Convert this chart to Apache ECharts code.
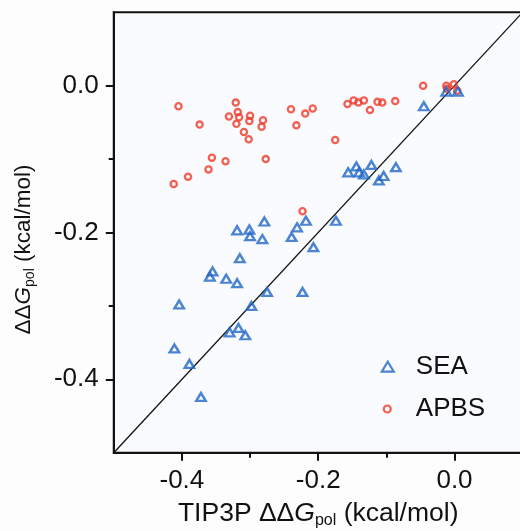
<!DOCTYPE html>
<html>
<head>
<meta charset="utf-8">
<script src="https://cdn.jsdelivr.net/npm/echarts@6/dist/echarts.min.js"></script>
<style>
  html, body { margin: 0; padding: 0; background: #fdfdfe; }
  #chart { width: 520px; height: 531px; }
</style>
</head>
<body>
<div id="chart"></div>
<script>
// SEA vs. TIP3P polar solvation free energy differences (kcal/mol)
const seaX = [-0.411, -0.404, -0.389, -0.372, -0.355, -0.359, -0.335, -0.319, -0.330, -0.317,
              -0.307, -0.315, -0.319, -0.301, -0.300, -0.298, -0.279, -0.282, -0.275, -0.231,
              -0.239, -0.218, -0.223, -0.207, -0.174, -0.156, -0.144, -0.140, -0.133, -0.122,
              -0.111, -0.104, -0.086, -0.045, -0.012, 0.005];
const seaY = [-0.358, -0.298, -0.379, -0.424, -0.253, -0.260, -0.263, -0.269, -0.336, -0.330,
              -0.340, -0.235, -0.197, -0.196, -0.205, -0.300, -0.185, -0.209, -0.281, -0.193,
              -0.206, -0.184, -0.281, -0.220, -0.184, -0.118, -0.110, -0.118, -0.121, -0.108,
              -0.129, -0.123, -0.111, -0.028, -0.008, -0.008];

// APBS vs. TIP3P
const apbsX = [-0.412, -0.405, -0.391, -0.374, -0.361, -0.356, -0.336, -0.331, -0.321, -0.318,
               -0.316, -0.320, -0.309, -0.302, -0.300, -0.301, -0.281, -0.283, -0.277, -0.240,
               -0.232, -0.219, -0.208, -0.223, -0.175, -0.157, -0.148, -0.141, -0.133, -0.124,
               -0.113, -0.106, -0.087, -0.046, -0.012, -0.011, -0.001, 0.004];
const apbsY = [-0.134, -0.028, -0.124, -0.053, -0.114, -0.098, -0.103, -0.042, -0.023, -0.036,
               -0.043, -0.052, -0.063, -0.073, -0.041, -0.048, -0.047, -0.056, -0.100, -0.032,
               -0.054, -0.038, -0.031, -0.171, -0.074, -0.025, -0.020, -0.023, -0.020, -0.033,
               -0.022, -0.023, -0.021, 0.000, 0.000, -0.004, 0.002, -0.007];

// axis range, labelled ticks and unlabelled minor ticks
const axisRange = [-0.5, 0.1];
const majorTicks = [-0.4, -0.2, 0.0];
const minorTicks = [-0.3, -0.1];
const seriesNames = ['SEA', 'APBS'];

const FONT = '"Liberation Sans", Arial, Helvetica, sans-serif';
const INK = '#111111';
const BLUE = '#1f66c6';
const RED = '#f03a28';

const zip = (xs, ys) => xs.map((x, i) => [x, ys[i]]);

function nameRich(size) {
  const lh = Math.round(size * 1.15);
  const sub = Math.round(size * 0.62);
  return {
    t: { fontSize: size, fontFamily: FONT, color: INK, lineHeight: lh },
    g: { fontSize: size, fontFamily: FONT, color: INK, fontStyle: 'italic', lineHeight: lh },
    s: { fontSize: sub, fontFamily: FONT, color: INK, lineHeight: Math.round(sub * 0.85), verticalAlign: 'bottom' }
  };
}

function mainAxis(extra) {
  return Object.assign({
    type: 'value',
    min: axisRange[0],
    max: axisRange[1],
    interval: 0.1,
    axisLine: { show: true, onZero: false, lineStyle: { color: INK, width: 2 } },
    axisTick: { show: true, customValues: majorTicks, length: 8, lineStyle: { color: INK, width: 2 } },
    axisLabel: {
      customValues: majorTicks,
      margin: 15,
      fontSize: 26,
      fontFamily: FONT,
      color: INK,
      formatter: v => v.toFixed(1)
    },
    splitLine: { show: false },
    nameLocation: 'middle'
  }, extra);
}

function minorAxis(extra) {
  return Object.assign({
    type: 'value',
    min: axisRange[0],
    max: axisRange[1],
    interval: 0.1,
    axisLine: { show: false, onZero: false },
    axisTick: { show: true, customValues: minorTicks, length: 5, lineStyle: { color: INK, width: 2 } },
    axisLabel: { show: false },
    splitLine: { show: false }
  }, extra);
}

const chart = echarts.init(document.getElementById('chart'), null, { renderer: 'canvas' });

chart.setOption({
  backgroundColor: '#fdfdfe',
  animation: false,
  grid: {
    left: 113.75,
    width: 408.9,
    top: 12.3,
    height: 440.4,
    outerBoundsMode: 'none',
    containLabel: false,
    show: true,
    backgroundColor: '#fafbfe',
    borderColor: INK,
    borderWidth: 2
  },
  xAxis: [
    mainAxis({
      position: 'bottom',
      name: '{t|TIP3P ΔΔ}{g|G}{s|pol}{t| (kcal/mol)}',
      nameGap: 46,
      nameTextStyle: { rich: nameRich(26.5) }
    }),
    minorAxis({ position: 'bottom' })
  ],
  yAxis: [
    mainAxis({
      position: 'left',
      name: '{t|ΔΔ}{g|G}{s|pol}{t| (kcal/mol)}',
      nameGap: 77,
      nameTextStyle: { rich: nameRich(22.5), padding: [0, 34, 0, 0] }
    }),
    minorAxis({ position: 'left' })
  ],
  legend: [
    {
      data: [seriesNames[0]],
      orient: 'vertical',
      left: 380.7,
      top: 353.7,
      padding: 0,
      itemWidth: 12,
      itemHeight: 10,
      icon: 'triangle',
      itemStyle: { color: 'transparent', borderColor: BLUE, borderWidth: 2.2 },
      textStyle: { fontSize: 26, fontFamily: FONT, color: INK, padding: [0, 0, 0, 17] }
    },
    {
      data: [seriesNames[1]],
      orient: 'vertical',
      left: 382.7,
      top: 396,
      padding: 0,
      itemWidth: 7,
      itemHeight: 7,
      icon: 'circle',
      itemStyle: { color: 'transparent', borderColor: RED, borderWidth: 2.2 },
      textStyle: { fontSize: 26, fontFamily: FONT, color: INK, padding: [0, 0, 0, 20] }
    }
  ],
  series: [
    {
      // y = x reference line
      type: 'line',
      data: [[axisRange[0], axisRange[0]], [axisRange[1], axisRange[1]]],
      symbol: 'none',
      silent: true,
      lineStyle: { color: INK, width: 1.3 },
      z: 1
    },
    {
      name: seriesNames[0],
      type: 'scatter',
      data: zip(seaX, seaY),
      symbol: 'triangle',
      symbolSize: [9.5, 8],
      itemStyle: { color: 'transparent', borderColor: BLUE, borderWidth: 2.4 },
      z: 3
    },
    {
      name: seriesNames[1],
      type: 'scatter',
      data: zip(apbsX, apbsY),
      symbol: 'circle',
      symbolSize: 6.2,
      itemStyle: { color: 'transparent', borderColor: RED, borderWidth: 2.3 },
      z: 2
    }
  ]
});
</script>
</body>
</html>
